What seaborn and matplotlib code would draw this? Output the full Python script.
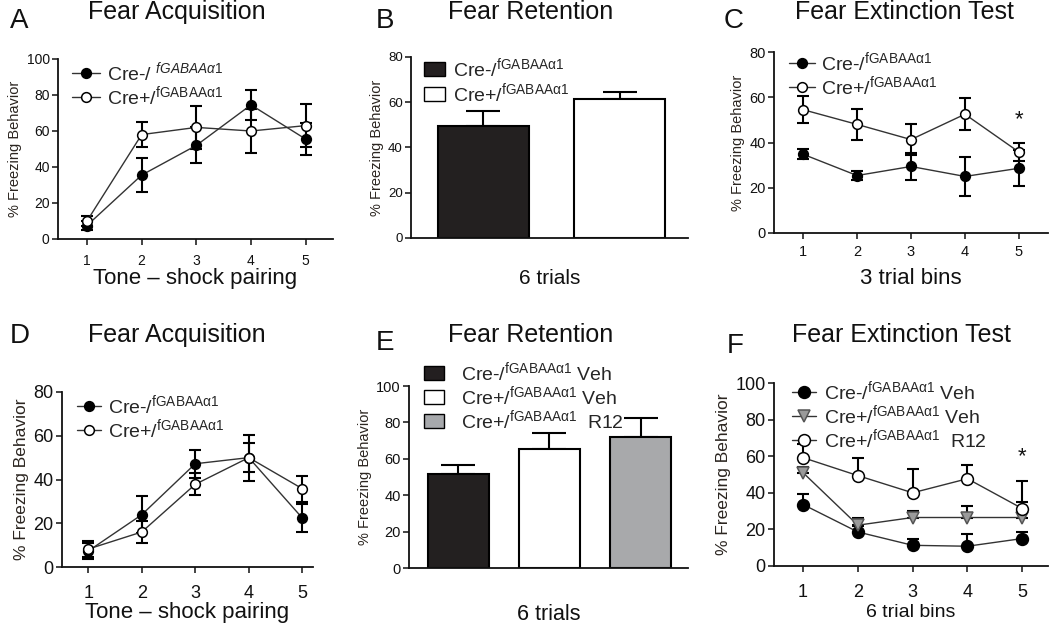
import numpy as np
import seaborn as sns
import matplotlib.pyplot as plt
from matplotlib.patches import Patch

# ---- data ----
pairings = [1, 2, 3, 4, 5]

# A: acquisition
acqA_neg = [7.5, 35.5, 52, 74.5, 55.5]
acqA_neg_err = [2.5, 9.5, 10, 8.5, 9]
acqA_pos = [10, 58, 62, 60, 63]
acqA_pos_err = [3, 7, 12, 12, 12]

# B: retention
retB_groups = ['Cre-', 'Cre+']
retB_vals = [49.5, 61.5]
retB_err = [6.5, 3]

# C: extinction
extC_neg = [34.8, 25.4, 29.4, 25, 28.6]
extC_neg_err = [2.3, 2, 6, 8.5, 8]
extC_pos = [54.5, 48, 41.3, 52.5, 35.8]
extC_pos_err = [6, 7, 7, 7, 4]

# D: acquisition
acqD_neg = [7.3, 23.9, 47.2, 50, 22.4]
acqD_neg_err = [3.5, 8.5, 6.5, 6.5, 6.5]
acqD_pos = [8.2, 16, 37.8, 50, 35.8]
acqD_pos_err = [3.5, 5, 5, 10.5, 6]

# E: retention
retE_groups = ['Cre- Veh', 'Cre+ Veh', 'Cre+ R12']
retE_vals = [51.7, 65.3, 72.2]
retE_err = [5, 9, 10]

# F: extinction
extF_neg = [33.6, 18.6, 11.3, 10.8, 15]
extF_neg_err = [5.7, 3, 3.7, 6.6, 3.6]
extF_veh = [51, 22.3, 26.5, 26.5, 26.5]
extF_veh_err = [3, 4, 3.5, 6.2, 8.6]
extF_r12 = [59.2, 49.4, 40, 47.7, 31.4]
extF_r12_err = [7.5, 9.8, 12.8, 7.5, 15]

sns.set_theme(style="ticks")
plt.rcParams['font.family'] = ['Liberation Sans', 'DejaVu Sans']
plt.rcParams['mathtext.fontset'] = 'custom'
plt.rcParams['mathtext.rm'] = 'Liberation Sans'
plt.rcParams['mathtext.it'] = 'Liberation Sans:italic'
plt.rcParams['mathtext.sf'] = 'Liberation Sans'

W, H = 1050, 624
fig = plt.figure(figsize=(W / 100, H / 100), dpi=100)

LABEL_COL = '#2b2520'
SUP = r'$^{\mathrm{fGABAA\alpha1}}$'
SUP_IT = r'$^{\mathit{fGABAA\alpha1}}$'


def px_axes(l, t, r, b):
    return fig.add_axes([l / W, 1 - b / H, (r - l) / W, (b - t) / H])


def ftext(x, y, s, size, **kw):
    fig.text(x / W, 1 - y / H, s, fontsize=size, va='baseline', color='#111111', **kw)


def style_axes(ax, tick_fs, ylab_fs, ymax, step, xpad=5):
    sns.despine(ax=ax)
    for sp in ['left', 'bottom']:
        ax.spines[sp].set_linewidth(1.3)
        ax.spines[sp].set_color('#111111')
    ax.set_ylim(0, ymax)
    ax.set_yticks(np.arange(0, ymax + 1, step))
    ax.tick_params(length=4, width=1.1, labelsize=tick_fs, colors='#111111', pad=2)
    ax.tick_params(axis='x', pad=xpad)
    ax.set_ylabel('% Freezing Behavior', fontsize=ylab_fs, color=LABEL_COL, labelpad=3)


def line_series(ax, y, err, marker, face, label, ms, both=True, edge='black'):
    lo = err if both else [0] * len(err)
    ax.errorbar(pairings, y, yerr=[lo, err], fmt='none', ecolor='black',
                elinewidth=1.5, capsize=4, capthick=1.5, zorder=2)
    sns.lineplot(x=pairings, y=y, ax=ax, color='#333333', linewidth=1.0,
                 marker=marker, markersize=ms, markerfacecolor=face,
                 markeredgecolor=edge, markeredgewidth=1.1, label=label, zorder=3)


def place_legend(ax, handles, labels, x, y, fs, hl, htp, ls):
    ax.legend(handles, labels, loc='upper left', bbox_to_anchor=(x / W, 1 - y / H),
              bbox_transform=fig.transFigure, frameon=False, fontsize=fs,
              borderpad=0, borderaxespad=0, handlelength=hl, handletextpad=htp,
              labelspacing=ls)


def bar_panel(ax, groups, vals, err, colors, capsize):
    sns.barplot(x=groups, y=vals, hue=groups, palette=colors, legend=False,
                edgecolor='black', linewidth=1.5, width=0.67, ax=ax, zorder=2)
    pos = np.arange(len(groups))
    ax.errorbar(pos, vals, yerr=[[0] * len(err), err], fmt='none', ecolor='black',
                elinewidth=1.5, capsize=capsize, capthick=1.5, zorder=1)
    ax.set_xticks([])


# ---- A ----
axA = px_axes(58, 59, 333, 239)
line_series(axA, acqA_neg, acqA_neg_err, 'o', 'black', 'neg', 7)
line_series(axA, acqA_pos, acqA_pos_err, 'o', 'white', 'pos', 7)
style_axes(axA, 10, 10.5, 100, 20, xpad=7)
axA.set_xlim(0.47, 5.5)
axA.set_xticks(pairings)
axA.set_xlabel('Tone – shock pairing', fontsize=16, color='#111111', labelpad=0)
h, _ = axA.get_legend_handles_labels()
place_legend(axA, h, ['Cre-/ ' + SUP_IT, 'Cre+/' + SUP], 72, 60, 14, 1.45, 0.35, 0.0)

# ---- B ----
axB = px_axes(411, 57, 688, 238)
bar_panel(axB, retB_groups, retB_vals, retB_err, ['#231f20', 'white'], 12)
style_axes(axB, 9.5, 10.5, 80, 20)
axB.set_xlim(-0.53, 1.5)
axB.set_xlabel('6 trials', fontsize=15, color='#111111', labelpad=22)
hb = [Patch(facecolor='#231f20', edgecolor='black'), Patch(facecolor='white', edgecolor='black')]
place_legend(axB, hb, ['Cre-/' + SUP, 'Cre+/' + SUP], 424, 56, 14, 1.1, 0.4, 0.05)

# ---- C ----
axC = px_axes(774, 52, 1048, 233)
line_series(axC, extC_neg, extC_neg_err, 'o', 'black', 'neg', 7)
line_series(axC, extC_pos, extC_pos_err, 'o', 'white', 'pos', 7)
style_axes(axC, 10.5, 10.5, 80, 20)
axC.set_xlim(0.46, 5.54)
axC.set_xticks(pairings)
axC.set_xlabel('3 trial bins', fontsize=16, color='#111111', labelpad=6)
axC.text(5, 50, '*', ha='center', va='center', fontsize=16, color='#111111')
h, _ = axC.get_legend_handles_labels()
place_legend(axC, h, ['Cre-/' + SUP, 'Cre+/' + SUP], 789, 50, 14, 1.35, 0.3, 0.0)

# ---- D ----
axD = px_axes(62, 392, 313, 567)
line_series(axD, acqD_neg, acqD_neg_err, 'o', 'black', 'neg', 7)
line_series(axD, acqD_pos, acqD_pos_err, 'o', 'white', 'pos', 7)
style_axes(axD, 13, 12.5, 80, 20, xpad=9)
axD.set_xlim(0.51, 5.2)
axD.set_xticks(pairings)
axD.set_xlabel('Tone – shock pairing', fontsize=16, color='#111111', labelpad=0)
h, _ = axD.get_legend_handles_labels()
place_legend(axD, h, ['Cre-/' + SUP, 'Cre+/' + SUP], 77, 393, 14, 1.25, 0.35, 0.0)

# ---- E ----
axE = px_axes(409, 386, 688, 568)
bar_panel(axE, retE_groups, retE_vals, retE_err, ['#231f20', 'white', '#a7a9ac'], 12)
style_axes(axE, 10.5, 10.5, 100, 20)
axE.set_xlim(-0.54, 2.52)
axE.set_xlabel('6 trials', fontsize=15.5, color='#111111', labelpad=26)
he = [Patch(facecolor='#231f20', edgecolor='black'), Patch(facecolor='white', edgecolor='black'),
      Patch(facecolor='#a7a9ac', edgecolor='black')]
place_legend(axE, he, ['Cre-/' + SUP + ' Veh', 'Cre+/' + SUP + ' Veh', 'Cre+/' + SUP + '  R12'],
             424, 360, 14, 1.05, 0.85, 0.0)

# ---- F ----
axF = px_axes(774, 383, 1048, 566)
line_series(axF, extF_neg, extF_neg_err, 'o', 'black', 'neg', 8.5, both=False)
line_series(axF, extF_veh, extF_veh_err, 'v', '#9a9a9a', 'veh', 8, both=False, edge='#555555')
line_series(axF, extF_r12, extF_r12_err, 'o', 'white', 'r12', 8.5, both=False)
style_axes(axF, 13, 12.5, 100, 20, xpad=9)
axF.set_xlim(0.47, 5.47)
axF.set_xticks(pairings)
axF.set_xlabel('6 trial bins', fontsize=14, color='#111111', labelpad=2)
axF.text(5, 60, '*', ha='center', va='center', fontsize=16, color='#111111')
h, _ = axF.get_legend_handles_labels()
place_legend(axF, h, ['Cre-/' + SUP + ' Veh', 'Cre+/' + SUP + ' Veh', 'Cre+/' + SUP + '  R12'],
             792, 379, 14, 1.25, 0.4, 0.0)

# ---- titles and panel letters ----
ftext(177, 19, 'Fear Acquisition', 18, ha='center')
ftext(531, 19, 'Fear Retention', 18, ha='center')
ftext(904, 19, 'Fear Extinction Test', 18, ha='center')
ftext(177, 342, 'Fear Acquisition', 18, ha='center')
ftext(531, 342, 'Fear Retention', 18, ha='center')
ftext(901, 342, 'Fear Extinction Test', 18, ha='center')
ftext(10, 28, 'A', 20)
ftext(376, 28, 'B', 20)
ftext(724, 28, 'C', 20)
ftext(10, 343, 'D', 20)
ftext(376, 350, 'E', 20)
ftext(727, 353, 'F', 20)

plt.savefig('out.png', dpi=100)
